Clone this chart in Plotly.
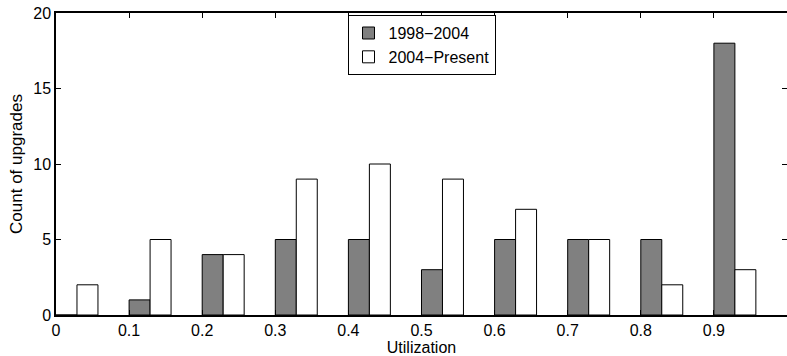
import plotly.graph_objects as go

bin_starts = [0.0, 0.1, 0.2, 0.3, 0.4, 0.5, 0.6, 0.7, 0.8, 0.9]
series_1998_2004 = [0, 1, 4, 5, 5, 3, 5, 5, 5, 18]
series_2004_present = [2, 5, 4, 9, 10, 9, 7, 5, 2, 3]
x_ticks = [0, 0.1, 0.2, 0.3, 0.4, 0.5, 0.6, 0.7, 0.8, 0.9, 1]
x_tick_labels = ["0", "0.1", "0.2", "0.3", "0.4", "0.5", "0.6", "0.7", "0.8", "0.9", "1"]
y_ticks = [0, 5, 10, 15, 20]

bw = 0.0287
font = "Liberation Sans, Arial, Helvetica, sans-serif"

fig = go.Figure()
fig.add_trace(go.Bar(
    x=bin_starts, y=series_1998_2004, name="1998\u22122004",
    width=bw, offset=0,
    marker=dict(color="#808080", line=dict(color="black", width=1)),
))
fig.add_trace(go.Bar(
    x=bin_starts, y=series_2004_present, name="2004\u2212Present",
    width=bw, offset=bw,
    marker=dict(color="white", line=dict(color="black", width=1)),
))

fig.update_layout(
    width=787, height=356,
    margin=dict(l=56, r=0, t=13, b=41, autoexpand=False),
    barmode="overlay",
    plot_bgcolor="white", paper_bgcolor="white",
    font=dict(family=font, size=16, color="black"),
    legend=dict(
        x=0.5, xanchor="center", y=0.993, yanchor="top",
        bgcolor="white", bordercolor="black", borderwidth=1,
        font=dict(size=16), tracegroupgap=0, itemwidth=30,
    ),
    xaxis=dict(
        range=[0, 1], tickvals=x_ticks, ticktext=x_tick_labels,
        ticks="inside", ticklen=5, tickcolor="black", tickfont=dict(size=16),
        showline=True, linecolor="black", linewidth=1.5, mirror="ticks",
        showgrid=False, zeroline=False,
        title=dict(text="Utilization", standoff=0, font=dict(size=16)),
    ),
    yaxis=dict(
        range=[0, 20], tickvals=y_ticks,
        ticks="inside", ticklen=5, tickcolor="black", tickfont=dict(size=16),
        showline=True, linecolor="black", linewidth=1.5, mirror="ticks",
        showgrid=False, zeroline=False,
        title=dict(text="Count of upgrades", standoff=6, font=dict(size=17)),
    ),
)

fig.write_html("out.html")
